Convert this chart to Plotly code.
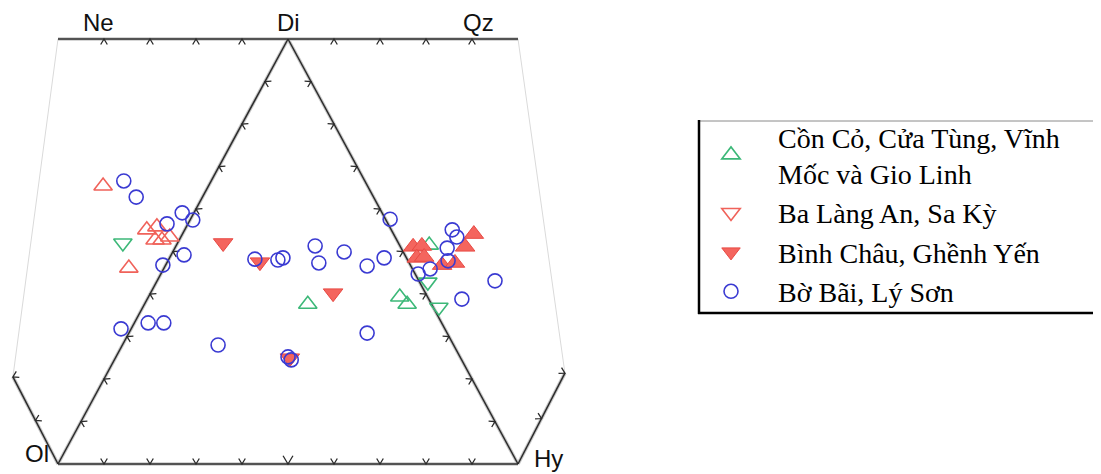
import plotly.graph_objects as go
import numpy as np

# ---- data in diagram units: u = position along Ol->Hy (0..100), v = height base->top (0..100)
blue_u = [14.3, 17.0, 27.0, 29.3, 23.7, 27.4, 22.8, 13.7, 19.6, 23.0, 34.8, 42.8, 47.8, 48.9, 55.9, 56.7,
          62.2, 67.2, 70.9, 67.2, 50.0, 50.7, 72.2, 85.7, 86.7, 84.6, 84.8, 80.9, 78.3, 87.8, 95.0]
blue_v = [66.6, 62.8, 59.1, 57.4, 56.5, 49.2, 46.8, 31.8, 33.2, 33.2, 28.0, 48.2, 48.0, 48.5, 51.3, 47.3,
          49.9, 46.6, 48.5, 30.8, 25.2, 24.5, 57.6, 55.1, 53.4, 50.8, 47.8, 45.9, 44.7, 38.8, 43.1]

green_up_u = [54.3, 74.3, 75.9, 80.7]
green_up_v = [37.6, 39.3, 37.6, 51.5]
green_dn_u = [14.1, 80.4, 82.8]
green_dn_v = [52.0, 42.8, 36.9]

red_open_up_u = [9.8, 19.3, 21.5, 21.1, 22.6, 24.3, 15.4]
red_open_up_v = [65.4, 55.1, 55.8, 52.7, 52.7, 53.4, 46.1]

red_fill_dn_u = [35.9, 43.9, 59.8, 50.4]
red_fill_dn_v = [52.0, 47.5, 40.2, 24.9]
red_fill_up_u = [77.2, 79.1, 78.0, 79.6, 83.5, 86.3, 88.5, 90.4]
red_fill_up_v = [51.1, 51.3, 48.5, 48.7, 46.8, 47.3, 51.1, 54.1]

series_names = ["Cồn Cỏ, Cửa Tùng, Vĩnh<br>Mốc và Gio Linh", "Ba Làng An, Sa Kỳ",
                "Bình Châu, Ghềnh Yến", "Bờ Bãi, Lý Sơn"]

# diagram vertices (u, v)
vertex_names = ["Ol", "Hy", "Di", "Ne", "Qz"]
OL, HY, DI, NE, QZ = (0, 0), (100, 0), (50, 100), (0, 100), (100, 100)
LEFT_OUT, RIGHT_OUT = (-9.8, 20.5), (110.2, 21.4)
tick_fracs = [0.1, 0.2, 0.3, 0.4, 0.5, 0.6, 0.7, 0.8, 0.9]

# ---- page offset (default body margin) and scale (px per unit)
OFF = 8
W, H = 1101 - OFF, 474 - OFF
SX, SY = 4.6, 4.25
X0PX, Y0PX = 58 - OFF, 464 - OFF
xr = [-X0PX / SX, (W - X0PX) / SX]
yr = [-(H - Y0PX) / SY, Y0PX / SY]

def px_x(p):  # page pixel -> paper x
    return (p - OFF) / W

def px_y(p):  # page pixel -> paper y
    return 1 - (p - OFF) / H

GREEN = "#3cb878"
RED = "#f0625a"
BLUE = "#3a3ad2"
DARK = "#2b2b2b"
SHADOW = "#c9c9c9"

fig = go.Figure()

def seg(a, b, color, width):
    fig.add_trace(go.Scatter(x=[a[0], b[0]], y=[a[1], b[1]], mode="lines",
                             line=dict(color=color, width=width), hoverinfo="skip", showlegend=False))

# faint outer lines
seg(NE, LEFT_OUT, "#dadada", 1)
seg(QZ, RIGHT_OUT, "#dadada", 1)

main_segs = [(NE, QZ), (OL, HY), (OL, DI), (DI, HY), (LEFT_OUT, OL), (RIGHT_OUT, HY)]
for a, b in main_segs:
    seg(a, b, SHADOW, 3.6)
for a, b in main_segs:
    seg(a, b, DARK, 1.5)

# tick chevrons computed in pixel space
def chevrons(a, b, fracs, side, arm=5.5, spread=0.6, big=None):
    xs, ys = [], []
    ax, ay = a[0] * SX, a[1] * SY
    bx, by = b[0] * SX, b[1] * SY
    dx, dy = bx - ax, by - ay
    L = np.hypot(dx, dy)
    tx, ty = dx / L, dy / L
    nx, ny = -ty * side, tx * side
    for f in fracs:
        px, py = ax + dx * f, ay + dy * f
        s = arm * (1.5 if (big is not None and abs(f - big) < 1e-6) else 1.0)
        for sgn in (-1, 1):
            ex = px + (nx + sgn * spread * tx) * s
            ey = py + (ny + sgn * spread * ty) * s
            xs += [ex / SX] if sgn == -1 else [px / SX, ex / SX, None]
            ys += [ey / SY] if sgn == -1 else [py / SY, ey / SY, None]
    fig.add_trace(go.Scatter(x=xs, y=ys, mode="lines", line=dict(color=DARK, width=1.3),
                             hoverinfo="skip", showlegend=False))

chevrons(NE, QZ, [f for f in tick_fracs if abs(f - 0.5) > 1e-6], side=-1)
chevrons(OL, HY, tick_fracs, side=1, big=0.5)
chevrons(OL, DI, tick_fracs, side=-1)
chevrons(DI, HY, tick_fracs, side=-1)
chevrons(LEFT_OUT, OL, [0.0, 0.5], side=1)
chevrons(RIGHT_OUT, HY, [0.0, 0.5], side=-1)

# ---- data traces
ms = 14
fig.add_trace(go.Scatter(x=green_up_u, y=green_up_v, mode="markers", name=series_names[0],
                         legendgroup="g1",
                         marker=dict(symbol="triangle-up-open", size=ms + 2, color=GREEN, line=dict(width=1.6))))
fig.add_trace(go.Scatter(x=green_dn_u, y=green_dn_v, mode="markers", showlegend=False, legendgroup="g1",
                         marker=dict(symbol="triangle-down-open", size=ms + 2, color=GREEN, line=dict(width=1.6))))
fig.add_trace(go.Scatter(x=[None], y=[None], mode="markers", name=series_names[1], legendgroup="g2",
                         marker=dict(symbol="triangle-down-open", size=ms + 2, color=RED, line=dict(width=1.6))))
fig.add_trace(go.Scatter(x=red_open_up_u, y=red_open_up_v, mode="markers", showlegend=False, legendgroup="g2",
                         marker=dict(symbol="triangle-up-open", size=ms + 2, color=RED, line=dict(width=1.6))))
fig.add_trace(go.Scatter(x=red_fill_up_u, y=red_fill_up_v, mode="markers", showlegend=False, legendgroup="g3",
                         marker=dict(symbol="triangle-up", size=ms + 3, color="#f4655e",
                                     line=dict(width=1, color="#e84a44"))))
fig.add_trace(go.Scatter(x=red_fill_dn_u, y=red_fill_dn_v, mode="markers", name=series_names[2], legendgroup="g3",
                         marker=dict(symbol="triangle-down", size=ms + 3, color="#f4655e",
                                     line=dict(width=1, color="#e84a44"))))
fig.add_trace(go.Scatter(x=blue_u, y=blue_v, mode="markers", name=series_names[3], legendgroup="g4",
                         marker=dict(symbol="circle-open", size=ms, color=BLUE, line=dict(width=1.6))))

# vertex labels
label_pos = {"Ne": (8.9, 103.9), "Di": (50.2, 103.9), "Qz": (91.5, 103.9), "Ol": (-4.6, 2.4), "Hy": (106.7, 1.2)}
for nm in vertex_names:
    px, py = label_pos[nm]
    fig.add_annotation(x=px, y=py, text=nm, showarrow=False,
                       font=dict(family="Liberation Sans, Arial", size=24, color="#111"))

# legend frame
fig.add_shape(type="line", xref="paper", yref="paper", x0=px_x(698), x1=1.0, y0=px_y(121), y1=px_y(121),
              line=dict(color="#8a8a8a", width=1))
fig.add_shape(type="line", xref="paper", yref="paper", x0=px_x(699), x1=px_x(699), y0=px_y(120), y1=px_y(314),
              line=dict(color="black", width=2.5))
fig.add_shape(type="line", xref="paper", yref="paper", x0=px_x(698), x1=1.0, y0=px_y(313), y1=px_y(313),
              line=dict(color="black", width=2.5))

fig.update_layout(
    width=W, height=H,
    margin=dict(l=0, r=0, t=0, b=0),
    paper_bgcolor="white", plot_bgcolor="white",
    xaxis=dict(range=xr, visible=False, fixedrange=True),
    yaxis=dict(range=yr, visible=False, fixedrange=True),
    showlegend=True,
    legend=dict(x=px_x(684), y=px_y(112), xanchor="left", yanchor="top",
                font=dict(family="Liberation Serif, Times New Roman", size=28, color="black"),
                bgcolor="rgba(0,0,0,0)", borderwidth=0, itemwidth=84,
                traceorder="grouped", tracegroupgap=0, valign="middle"),
)

fig.write_html("out.html")
